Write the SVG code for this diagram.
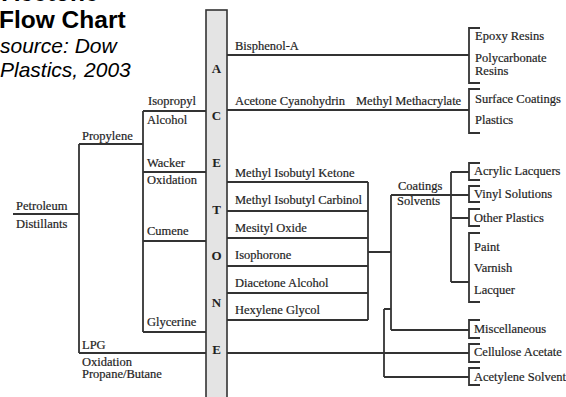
<svg xmlns="http://www.w3.org/2000/svg" width="566" height="397" viewBox="0 0 566 397">
<style>
.t{font-family:"Liberation Serif","Times New Roman",serif;font-size:12.5px;fill:#1e1e1e;stroke:#1e1e1e;stroke-width:0.2}
.col{font-family:"Liberation Serif","Times New Roman",serif;font-size:13px;font-weight:bold;fill:#222;text-anchor:middle}
.ln{fill:none;stroke:#333;stroke-width:1.8}
.br{fill:none;stroke:#333;stroke-width:1.8}
.h1{font-family:"Liberation Sans",Arial,sans-serif;font-size:24.5px;font-weight:bold;fill:#000}
.h2{font-family:"Liberation Sans",Arial,sans-serif;font-size:21px;font-style:italic;fill:#000}
</style>
<rect width="566" height="397" fill="#fff"/>
<g id="title">
<text class="h1" x="2" y="1">Acetone</text>
<text class="h1" x="-1" y="28">Flow Chart</text>
<text class="h2" x="0" y="53">source: Dow</text>
<text class="h2" x="0" y="77">Plastics, 2003</text>
</g>
<g id="connectors">
<path class="ln" d="M13 214H79M79 144V353M79 144H143M143 111V332M143 111H206M143 172H206M143 241H206M143 332H206M79 353H206"/>
<path class="ln" d="M227 55H469M227 110H469M227 182H368M227 211H368M227 238H368M227 266H368M227 293H368M227 320H368M368 182V320M368 252H391M391 195V330M391 195H469M391 330H469M451 172V282M451 172H469M451 218H469M451 282H469M384 309H391M384 309V377M384 377H469M227 353H469"/>
</g>
<g id="acetone">
<rect x="206" y="10" width="21" height="400" fill="#e4e4e4" stroke="#333" stroke-width="1.6"/>
<text class="col" x="216.5" y="73">A</text>
<text class="col" x="216.5" y="120">C</text>
<text class="col" x="216.5" y="167">E</text>
<text class="col" x="216.5" y="214">T</text>
<text class="col" x="216.5" y="260">O</text>
<text class="col" x="216.5" y="307">N</text>
<text class="col" x="216.5" y="354">E</text>
</g>
<g id="feedstocks">
<text class="t" x="16" y="210">Petroleum</text>
<text class="t" x="16" y="228">Distillants</text>
<text class="t" x="82" y="140">Propylene</text>
<text class="t" x="82" y="349">LPG</text>
<text class="t" x="82" y="366">Oxidation</text>
<text class="t" x="82" y="377.5">Propane/Butane</text>
</g>
<g id="processes">
<text class="t" x="148" y="105">Isopropyl</text>
<text class="t" x="147" y="124">Alcohol</text>
<text class="t" x="147" y="167">Wacker</text>
<text class="t" x="147" y="184">Oxidation</text>
<text class="t" x="147" y="235">Cumene</text>
<text class="t" x="147" y="326">Glycerine</text>
</g>
<g id="derivatives">
<text class="t" x="235" y="50">Bisphenol-A</text>
<text class="t" x="235" y="105">Acetone Cyanohydrin</text>
<text class="t" x="356" y="105">Methyl Methacrylate</text>
<text class="t" x="235" y="177">Methyl Isobutyl Ketone</text>
<text class="t" x="235" y="204">Methyl Isobutyl Carbinol</text>
<text class="t" x="235" y="232">Mesityl Oxide</text>
<text class="t" x="235" y="259">Isophorone</text>
<text class="t" x="235" y="287">Diacetone Alcohol</text>
<text class="t" x="235" y="314">Hexylene Glycol</text>
<text class="t" x="398" y="190">Coatings</text>
<text class="t" x="397" y="205">Solvents</text>
</g>
<g id="endUses">
<path class="br" d="M480 28H469V83H480M480 89H469V133H480M480 163H469V180H480M480 186H469V202H480M480 209H469V226H480M480 233H469V302H480M480 320H469V338H480M480 344H469V362H480M480 368H469V385H480"/>
<text class="t" x="475" y="40">Epoxy Resins</text>
<text class="t" x="475" y="62">Polycarbonate</text>
<text class="t" x="475" y="75">Resins</text>
<text class="t" x="475" y="103">Surface Coatings</text>
<text class="t" x="475" y="124">Plastics</text>
<text class="t" x="474" y="175">Acrylic Lacquers</text>
<text class="t" x="474" y="198">Vinyl Solutions</text>
<text class="t" x="474" y="222">Other Plastics</text>
<text class="t" x="474" y="251">Paint</text>
<text class="t" x="474" y="272">Varnish</text>
<text class="t" x="474" y="294">Lacquer</text>
<text class="t" x="474" y="333">Miscellaneous</text>
<text class="t" x="474" y="356">Cellulose Acetate</text>
<text class="t" x="474" y="381">Acetylene Solvent</text>
</g>
</svg>
